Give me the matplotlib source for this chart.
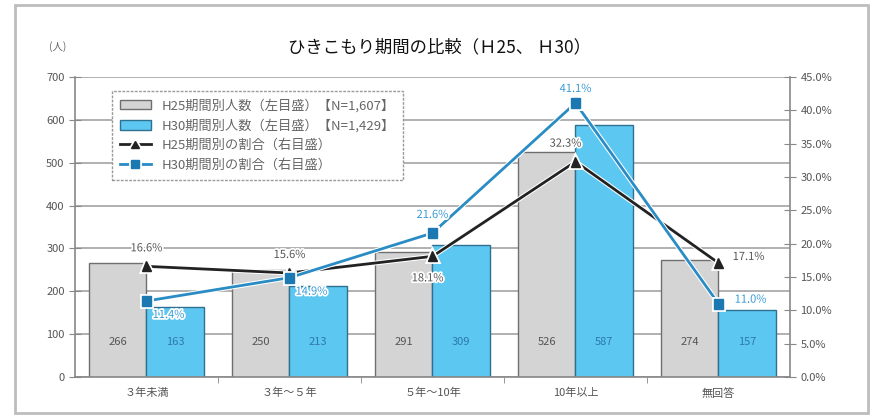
import matplotlib
matplotlib.use('Agg')
import matplotlib.pyplot as plt
import matplotlib.patheffects as pe
from matplotlib.patches import Rectangle
import numpy as np

plt.rcParams['font.family'] = ['Noto Sans CJK JP', 'DejaVu Sans']

categories = ['３年未満', '３年～５年', '５年～10年', '10年以上', '無回答']
h25_count = [266, 250, 291, 526, 274]
h30_count = [163, 213, 309, 587, 157]
h25_ratio = [16.6, 15.6, 18.1, 32.3, 17.1]
h30_ratio = [11.4, 14.9, 21.6, 41.1, 11.0]
left_ticks = [0, 100, 200, 300, 400, 500, 600, 700]
right_ticks = [0, 5, 10, 15, 20, 25, 30, 35, 40, 45]

# label offsets in pixels (dx, dy) for each point
h25_offsets = [(0, 18), (0, 18), (-5, -22), (-10, 18), (30, 6)]
h30_offsets = [(22, -14), (22, -14), (0, 18), (0, 14), (32, 4)]

fig = plt.figure(figsize=(8.78, 4.16), dpi=100)
fig.patches.append(Rectangle((15 / 878, 3 / 416), 853 / 878, 408 / 416,
                             transform=fig.transFigure, fill=False,
                             edgecolor='#bdbdbd', linewidth=2))

ax = fig.add_axes([75 / 878, 1 - 377 / 416, 715 / 878, 300 / 416])
x = np.arange(len(categories))
w = 0.4

ax.bar(x - w / 2, h25_count, w, color='#d4d4d4', edgecolor='#6f6f6f',
       linewidth=1, zorder=2, label='H25期間別人数（左目盛）【N=1,607】')
ax.bar(x + w / 2, h30_count, w, color='#5cc8f2', edgecolor='#2f6f8f',
       linewidth=1, zorder=2, label='H30期間別人数（左目盛）【N=1,429】')

for i in range(len(categories)):
    ax.text(x[i] - w / 2, 82, str(h25_count[i]), ha='center', va='center',
            fontsize=8, color='#555555', zorder=3)
    ax.text(x[i] + w / 2, 82, str(h30_count[i]), ha='center', va='center',
            fontsize=8, color='#2d78ad', zorder=3)

ax.set_xlim(-0.5, len(categories) - 0.5)
ax.set_ylim(0, 700)
ax.set_yticks(left_ticks)
ax.set_xticks(x)
ax.set_xticklabels(categories)
ax.set_xticks(np.arange(0.5, len(categories) - 1, 1), minor=True)
ax.tick_params(axis='x', which='major', length=0, pad=8, labelsize=8,
               labelcolor='#555555')
ax.tick_params(axis='x', which='minor', length=4, color='#888888')
ax.tick_params(axis='y', direction='inout', length=8, color='#888888',
               labelsize=8, labelcolor='#555555')
ax.yaxis.grid(True, color='#aaaaaa', linewidth=1.3, zorder=0)
ax.set_axisbelow(True)
for s in ['top', 'right']:
    ax.spines[s].set_visible(False)
for s in ['left', 'bottom']:
    ax.spines[s].set_color('#888888')
    ax.spines[s].set_linewidth(1.2)

ax2 = ax.twinx()
ax2.set_ylim(0, 45)
ax2.set_yticks(right_ticks)
ax2.set_yticklabels(['%.1f%%' % v for v in right_ticks])
ax2.tick_params(axis='y', direction='inout', length=8, color='#888888',
                labelsize=8, labelcolor='#555555')
for s in ['top', 'left', 'bottom']:
    ax2.spines[s].set_visible(False)
ax2.spines['right'].set_color('#888888')
ax2.spines['right'].set_linewidth(1.2)

halo = [pe.Stroke(linewidth=3.5, foreground='white'), pe.Normal()]
ax2.plot(x, h25_ratio, color='#222222', linewidth=2, marker='^',
         markersize=7, path_effects=halo, zorder=4,
         label='H25期間別の割合（右目盛）')
ax2.plot(x, h30_ratio, color='#2a8cc4', linewidth=2, marker='s',
         markersize=7, markerfacecolor='#1b78b0', markeredgecolor='#1b78b0',
         path_effects=halo, zorder=5, label='H30期間別の割合（右目盛）')

txt_halo = [pe.withStroke(linewidth=2.5, foreground='white')]
for i in range(len(categories)):
    ax2.annotate('%.1f%%' % h25_ratio[i], (x[i], h25_ratio[i]),
                 xytext=h25_offsets[i], textcoords='offset pixels',
                 ha='center', va='center', fontsize=8, color='#555555',
                 path_effects=txt_halo, zorder=6)
    ax2.annotate('%.1f%%' % h30_ratio[i], (x[i], h30_ratio[i]),
                 xytext=h30_offsets[i], textcoords='offset pixels',
                 ha='center', va='center', fontsize=8, color='#3a9ad6',
                 path_effects=txt_halo, zorder=6)

h1, l1 = ax.get_legend_handles_labels()
h2, l2 = ax2.get_legend_handles_labels()
leg = ax2.legend(h1 + h2, l1 + l2, loc='upper left',
                 bbox_to_anchor=(30 / 715, 293 / 300), fontsize=9.5,
                 frameon=True, fancybox=False, framealpha=1,
                 edgecolor='#999999', labelspacing=0.5, markerscale=0.8,
                 handlelength=2.4, borderpad=0.6)
leg.get_frame().set_linestyle((0, (2, 1)))
for t in leg.get_texts():
    t.set_color('#666666')
leg.set_zorder(10)

fig.text(440 / 878, 1 - 47 / 416, 'ひきこもり期間の比較（Ｈ25、 Ｈ30）',
         ha='center', va='center', fontsize=12.5, color='#111111')
fig.text(58 / 878, 1 - 47 / 416, '(人)', ha='center', va='center',
         fontsize=7.5, color='#666666')

fig.savefig('out.png', dpi=100)
